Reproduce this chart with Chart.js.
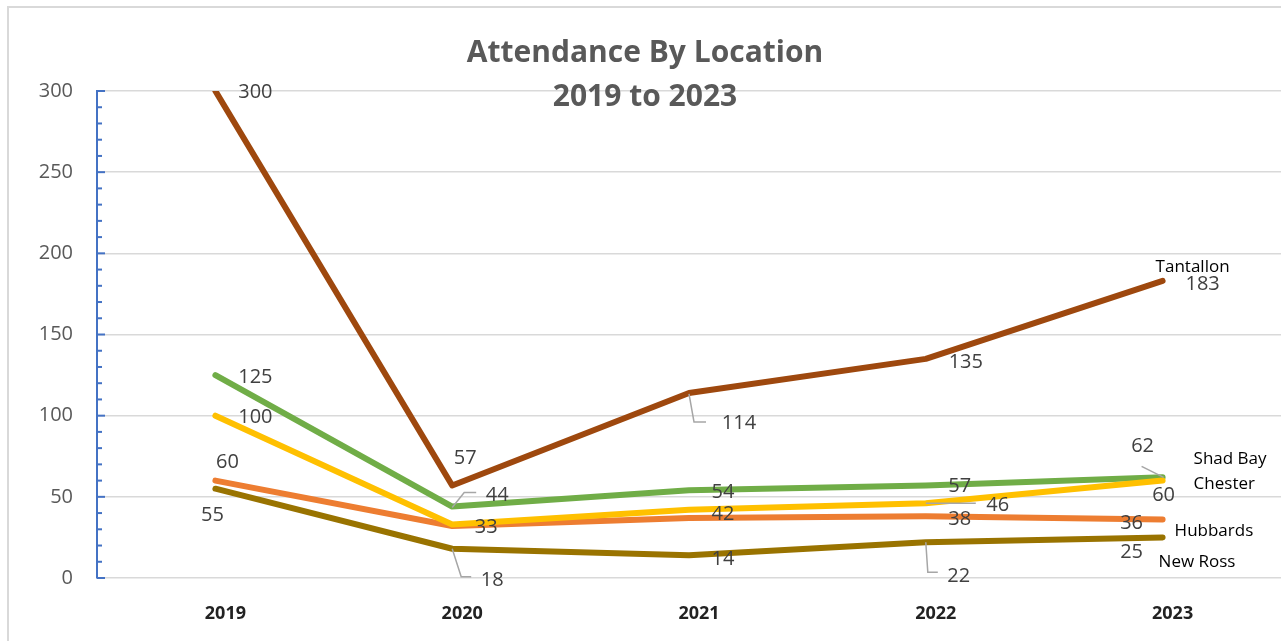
<!DOCTYPE html>
<html>
<head>
<meta charset="utf-8">
<title>Attendance By Location</title>
<script src="https://cdn.jsdelivr.net/npm/chart.js@4"></script>
<style>
  html, body { margin: 0; padding: 0; background: #fff; }
  canvas { display: block; }
</style>
</head>
<body>
<canvas id="chart" width="1281" height="641"></canvas>
<script>
// data
const years = ['2019', '2020', '2021', '2022', '2023'];
const tantallon = [300, 57, 114, 135, 183];
const shadBay = [125, 44, 54, 57, 62];
const chester = [100, 33, 42, 46, 60];
const hubbards = [60, 32, 37, 38, 36];
const newRoss = [55, 18, 14, 22, 25];
const seriesNames = ['Tantallon', 'Shad Bay', 'Chester', 'Hubbards', 'New Ross'];
const titleLines = ['Attendance By Location', '2019 to 2023'];

// label placement (pixel offsets from each point), null = no label
const labelOffsets = [
  [[40, 1], [13, -27], [50, 30], [40, 3], [40, 3]],
  [[40, 2], [45, -11], [34, 2], [34, 1], [-20, -31]],
  [[40, 2], [34, 3], [34, 4], [72, 2], [1, 15]],
  [[12, -18], null, null, [34, 3], [-31, 4]],
  [[-3, 27], [40, 32], [34, 4], [33, 34], [-31, 15]]
];
// leader lines, relative to the point
const leaders = [
  { 2: [[0, 1], [5, 29], [17, 29]] },
  { 1: [[0, 1], [12, -14], [24, -14]], 4: [[-21, -11], [1, 0]] },
  { 3: [[0, 0], [50, 0]] },
  {},
  { 1: [[0, 0], [9, 28], [19, 28]], 3: [[0, 0], [2, 30], [12, 30]] }
];
// series name next to the last point
const nameOffsets = [[-7, -14], [31, -18], [31, 4], [12, 12], [-4, 25]];

const colors = ['#9E480E', '#70AD47', '#FFC000', '#ED7D31', '#997300'];

const frame = {
  id: 'frame',
  beforeDraw(chart) {
    const ctx = chart.ctx;
    ctx.save();
    ctx.fillStyle = '#fff';
    ctx.fillRect(0, 0, chart.width, chart.height);
    ctx.strokeStyle = '#d9d9d9';
    ctx.lineWidth = 2;
    ctx.strokeRect(8, 7, chart.width + 20, chart.height + 20);
    ctx.restore();
  }
};

const axisTicks = {
  id: 'axisTicks',
  afterDraw(chart) {
    const ctx = chart.ctx;
    const y = chart.scales.y;
    const x0 = chart.chartArea.left;
    ctx.save();
    ctx.strokeStyle = '#4472C4';
    ctx.lineWidth = 2;
    for (let v = 0; v <= 300; v += 10) {
      const py = y.getPixelForValue(v);
      ctx.beginPath();
      ctx.moveTo(x0, py);
      ctx.lineTo(x0 + (v % 50 === 0 ? 8 : 5), py);
      ctx.stroke();
    }
    ctx.restore();
  }
};

const labels = {
  id: 'labels',
  afterDatasetsDraw(chart) {
    const ctx = chart.ctx;
    ctx.save();
    // title over the plot
    ctx.fillStyle = '#595959';
    ctx.font = 'bold 30px "Open Sans"';
    ctx.textAlign = 'center';
    ctx.textBaseline = 'alphabetic';
    ctx.fillText(titleLines[0], 645, 62);
    ctx.fillText(titleLines[1], 645, 106);

    chart.data.datasets.forEach((ds, i) => {
      const meta = chart.getDatasetMeta(i);
      meta.data.forEach((pt, j) => {
        const lead = leaders[i][j];
        if (lead) {
          ctx.strokeStyle = '#a6a6a6';
          ctx.lineWidth = 1.5;
          ctx.beginPath();
          lead.forEach((p, k) => {
            if (k === 0) ctx.moveTo(pt.x + p[0], pt.y + p[1]);
            else ctx.lineTo(pt.x + p[0], pt.y + p[1]);
          });
          ctx.stroke();
        }
        const off = labelOffsets[i][j];
        if (!off) return;
        ctx.fillStyle = '#404040';
        ctx.font = '20px "Open Sans"';
        ctx.textAlign = 'center';
        ctx.textBaseline = 'middle';
        ctx.fillText(String(ds.data[j]), pt.x + off[0], pt.y + off[1]);
      });
      const last = meta.data[meta.data.length - 1];
      const no = nameOffsets[i];
      ctx.fillStyle = '#000';
      ctx.font = '17px "Open Sans"';
      ctx.textAlign = 'left';
      ctx.textBaseline = 'middle';
      ctx.fillText(ds.label, last.x + no[0], last.y + no[1]);
    });
    ctx.restore();
  }
};

const seriesData = [tantallon, shadBay, chester, hubbards, newRoss];
const drawOrder = [2, 3, 0, 4, 5];

new Chart(document.getElementById('chart'), {
  type: 'line',
  data: {
    labels: years,
    datasets: seriesData.map((d, i) => ({
      label: seriesNames[i],
      data: d,
      borderColor: colors[i],
      backgroundColor: colors[i],
      borderWidth: 6,
      borderCapStyle: 'round',
      borderJoinStyle: 'round',
      pointRadius: 0,
      tension: 0,
      order: drawOrder[i]
    }))
  },
  options: {
    responsive: false,
    animation: false,
    devicePixelRatio: 1,
    layout: { padding: { top: 91, left: 0, right: 0, bottom: 0 } },
    plugins: {
      legend: { display: false },
      title: { display: false },
      tooltip: { enabled: false }
    },
    scales: {
      x: {
        offset: true,
        grid: { display: false, drawTicks: false },
        border: { display: false },
        ticks: {
          color: '#222',
          font: { family: 'Open Sans', size: 18, weight: 'bold' },
          padding: 25,
          labelOffset: 10,
          maxRotation: 0
        },
        afterFit(scale) { scale.height = 63; }
      },
      y: {
        min: 0,
        max: 300,
        grid: { color: '#d9d9d9', lineWidth: 1.5, drawTicks: false },
        border: { color: '#4472C4', width: 2 },
        ticks: {
          stepSize: 50,
          color: '#595959',
          font: { family: 'Open Sans', size: 20 },
          padding: 24
        },
        afterFit(scale) { scale.width = 97; }
      }
    }
  },
  plugins: [frame, axisTicks, labels]
});
</script>
</body>
</html>
